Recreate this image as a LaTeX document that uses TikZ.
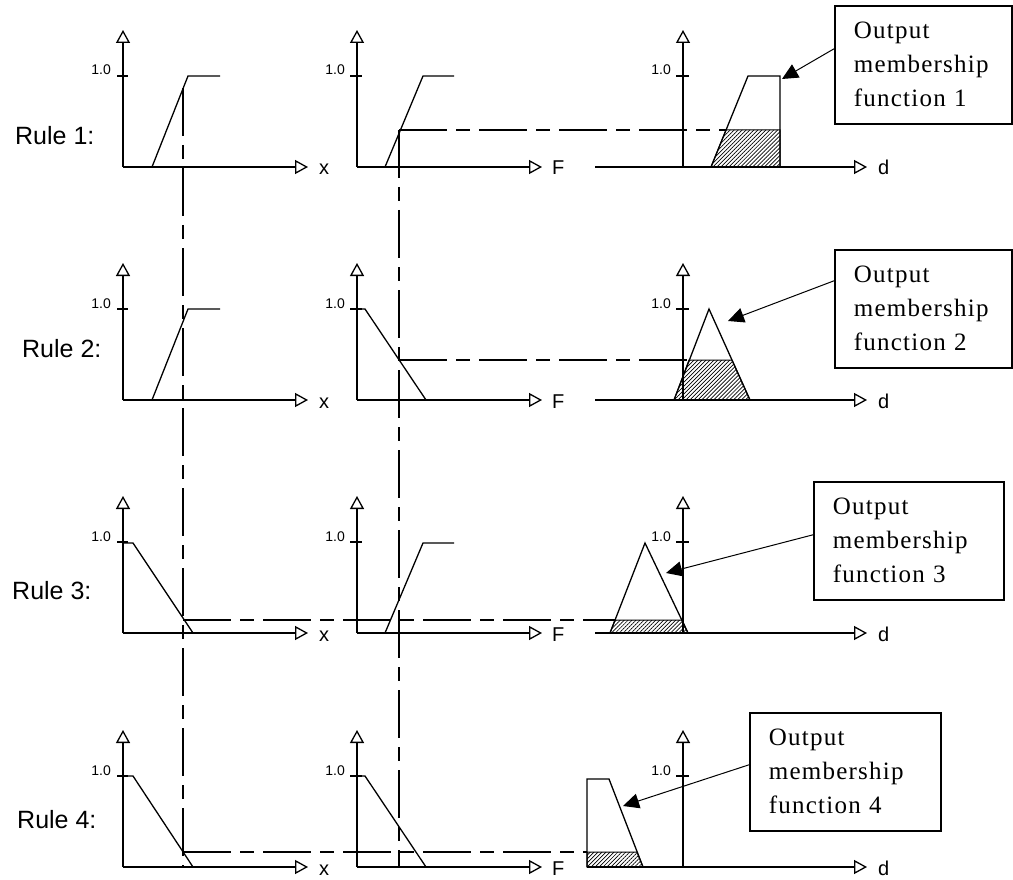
\documentclass[tikz,border=0pt]{standalone}
\usepackage{fontspec}
\setmainfont{Liberation Serif}
\newfontfamily\diasans{Liberation Sans}
\newfontfamily\boxserif[LetterSpace=5]{Liberation Serif}
\usetikzlibrary{arrows.meta,patterns.meta}
\begin{document}
\begin{tikzpicture}[x=1pt,y=-1pt,
  axisline/.style={line width=1.8pt,-{Triangle[open,length=13pt,width=14pt,line width=1.3pt]}},
  mf/.style={line width=1.3pt},
  tickline/.style={line width=1.5pt},
  guide/.style={line width=1.4pt,dash pattern=on 48pt off 9pt on 14pt off 9pt},
  hatched/.style={draw,line width=1pt,pattern={Lines[angle=45,distance=2.8pt,line width=0.7pt]}},
  rulelbl/.style={font=\diasans\fontsize{25}{30}\selectfont,anchor=base west,inner sep=0pt},
  axlbl/.style={font=\diasans\fontsize{20}{24}\selectfont,anchor=base west,inner sep=0pt},
  onelbl/.style={font=\diasans\fontsize{14}{16}\selectfont,anchor=base east,inner sep=0pt},
  obox/.style={draw,line width=1.6pt,anchor=north west,align=left,inner xsep=19pt,inner ysep=0pt,
     minimum height=118pt,font=\boxserif\fontsize{25}{34}\selectfont},
  callout/.style={line width=1pt,-{Triangle[length=16pt,width=15pt]}}
]
\useasboundingbox[fill=white] (0,0) rectangle (1013,880);

% ---------- Rule labels ----------
\node[rulelbl] (rule1) at (15,145) {Rule 1:};
\node[rulelbl] (rule2) at (22,357) {Rule 2:};
\node[rulelbl] (rule3) at (12,599) {Rule 3:};
\node[rulelbl] (rule4) at (17,828) {Rule 4:};

% ---------- axes (rows at y = 167, 400, 633, 867) ----------
\foreach \r/\ya in {1/167,2/400,3/633,4/867}{
  % left panel
  \draw[axisline] (123,\ya) -- (123,\ya-137);
  \draw[axisline] (123,\ya) -- (308,\ya);
  \draw[tickline] (117,\ya-91) -- (128,\ya-91);
  \node[onelbl] (oneL\r) at (111,\ya-92) {1.0};
  \node[axlbl] (xl\r) at (319,\ya+8) {x};
  % middle panel
  \draw[axisline] (357,\ya) -- (357,\ya-137);
  \draw[axisline] (357,\ya) -- (542,\ya);
  \draw[tickline] (350,\ya-91) -- (362,\ya-91);
  \node[onelbl] (oneM\r) at (345,\ya-92) {1.0};
  \node[axlbl] (Fl\r) at (552,\ya+8) {F};
  % right panel
  \draw[axisline] (683,\ya) -- (683,\ya-137);
  \draw[tickline] (676,\ya-91) -- (689,\ya-91);
  \node[onelbl] (oneR\r) at (671,\ya-92) {1.0};
  \node[axlbl] (dl\r) at (878,\ya+8) {d};
}
\draw[axisline] (595,167) -- (867,167);
\draw[axisline] (595,400) -- (867,400);
\draw[axisline] (595,633) -- (867,633);
\draw[axisline] (587,867) -- (867,867);

% ---------- input membership functions ----------
% left panels
\draw[mf] (152,167) -- (188,76) -- (220,76);
\draw[mf] (152,400) -- (188,309) -- (220,309);
\draw[mf] (123,543) -- (133,543) -- (193,633);
\draw[mf] (123,776) -- (133,776) -- (193,867);
% middle panels
\draw[mf] (385,167) -- (423,76) -- (454,76);
\draw[mf] (357,309) -- (365,309) -- (426,400);
\draw[mf] (385,633) -- (423,543) -- (454,543);
\draw[mf] (357,776) -- (365,776) -- (426,867);

% ---------- hatched (clipped) outputs ----------
\draw[hatched] (711,167) -- (726,130) -- (780,130) -- (780,167) -- cycle;
\draw[hatched] (674,400) -- (689,360) -- (732,360) -- (750,400) -- cycle;
\draw[hatched] (610,633) -- (615,620) -- (682,620) -- (688,633) -- cycle;
\draw[hatched] (587,867) -- (587,852) -- (637,852) -- (643,867) -- cycle;

% ---------- output membership functions ----------
\draw[mf] (711,167) -- (748,76) -- (780,76) -- (780,167);
\draw[mf] (674,400) -- (709,309) -- (750,400);
\draw[mf] (610,633) -- (645,543) -- (688,633);
\draw[mf] (587,867) -- (587,779) -- (609,779) -- (643,867);

% ---------- guide lines ----------
\coordinate (v1top) at (183,88);
\coordinate (v1bot) at (183,867);
\coordinate (v2top) at (399,130);
\coordinate (v2bot) at (399,867);
\draw[guide] (v1top) -- (v1bot);
\draw[guide] (v2top) -- (v2bot);
\coordinate (h1a) at (399,130); \coordinate (h1b) at (726,130);
\coordinate (h2a) at (399,360); \coordinate (h2b) at (689,360);
\coordinate (h3a) at (183,620); \coordinate (h3b) at (615,620);
\coordinate (h4a) at (183,852); \coordinate (h4b) at (587,852);
\draw[guide] (h1a) -- (h1b);
\draw[guide] (h2a) -- (h2b);
\draw[guide] (h3a) -- (h3b);
\draw[guide] (h4a) -- (h4b);

% ---------- callout boxes ----------
\node[obox,minimum width=177pt,text width=139pt] (box1) at (834,5) {Output\\membership\\function 1};
\node[obox,minimum width=177pt,text width=139pt] (box2) at (834,249) {Output\\membership\\function 2};
\node[obox,minimum width=190pt,text width=152pt] (box3) at (813,481) {Output\\membership\\function 3};
\node[obox,minimum width=191pt,text width=153pt] (box4) at (749,712) {Output\\membership\\function 4};

\coordinate (t1) at (782,79);
\coordinate (t2) at (728,321);
\coordinate (t3) at (666,573);
\coordinate (t4) at (623,806);
\draw[callout] ([yshift=16pt]box1.west) -- (t1);
\draw[callout] ([yshift=28pt]box2.west) -- (t2);
\draw[callout] ([yshift=6pt]box3.west) -- (t3);
\draw[callout] ([yshift=7pt]box4.west) -- (t4);
\end{tikzpicture}
\end{document}
